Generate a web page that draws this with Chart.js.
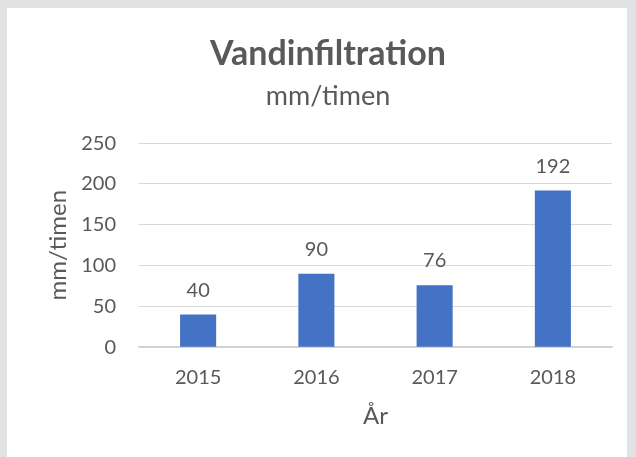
<!DOCTYPE html>
<html>
<head>
<meta charset="utf-8">
<script src="https://cdn.jsdelivr.net/npm/chart.js@4"></script>
<style>
    html, body { margin: 0; padding: 0; background: #e1e2e4; }
    #panel { position: absolute; left: 7px; top: 8px; width: 620px; height: 449px; background: #ffffff; }
    #wrap { position: absolute; left: 0; top: 0; width: 636px; height: 457px; }
</style>
</head>
<body>
<div id="panel"></div>
<div id="wrap"><canvas id="chartInfiltration"></canvas></div>
<script>
// data
var years = ['2015', '2016', '2017', '2018'];
var infiltration = [40, 90, 76, 192];
var yTicks = [0, 50, 100, 150, 200, 250];

var textColor = '#595959';
var fontName = 'Lato, "Open Sans", sans-serif';

// labels above each bar
var barLabels = {
    id: 'barLabels',
    afterDatasetsDraw: function (chart) {
        var ctx = chart.ctx;
        var meta = chart.getDatasetMeta(0);
        ctx.save();
        ctx.fillStyle = textColor;
        ctx.font = '20px ' + fontName;
        ctx.textAlign = 'center';
        ctx.textBaseline = 'alphabetic';
        meta.data.forEach(function (bar, i) {
            ctx.fillText(String(infiltration[i]), bar.x, bar.y - 18);
        });
        ctx.restore();
    }
};

var ctx = document.getElementById('chartInfiltration').getContext('2d');
var myChart = new Chart(ctx, {
    type: 'bar',
    data: {
        labels: years,
        datasets: [{
            label: 'mm/timen',
            data: infiltration,
            backgroundColor: '#4472c4',
            borderWidth: 0,
            categoryPercentage: 1,
            barPercentage: 0.305
        }]
    },
    options: {
        responsive: true,
        maintainAspectRatio: false,
        animation: false,
        layout: {
            padding: { left: 44, right: 24, top: 0, bottom: 26 }
        },
        scales: {
            x: {
                grid: { display: false, drawTicks: false },
                border: { display: true, color: '#d0d0d0', width: 1.5 },
                ticks: {
                    color: textColor,
                    font: { family: fontName, size: 20 },
                    padding: 18
                },
                title: {
                    display: true,
                    text: 'År',
                    color: textColor,
                    font: { family: fontName, size: 24 },
                    padding: { top: -5, bottom: 0 }
                }
            },
            y: {
                min: 0,
                max: 250,
                afterBuildTicks: function (scale) {
                    scale.ticks = yTicks.map(function (v) { return { value: v }; });
                },
                afterFit: function (scale) {
                    scale.width = 95;
                },
                grid: { color: '#d9d9d9', drawTicks: false },
                border: { display: false },
                ticks: {
                    color: textColor,
                    font: { family: fontName, size: 20 },
                    padding: 23
                },
                title: {
                    display: true,
                    text: 'mm/timen',
                    color: textColor,
                    font: { family: fontName, size: 24 },
                    padding: { top: 0, bottom: 0 }
                }
            }
        },
        plugins: {
            legend: { display: false },
            tooltip: { enabled: false },
            title: {
                display: true,
                text: 'Vandinfiltration',
                color: textColor,
                font: { family: fontName, size: 34, weight: 'bold' },
                padding: { top: 34, bottom: 5 }
            },
            subtitle: {
                display: true,
                text: 'mm/timen',
                color: textColor,
                font: { family: fontName, size: 27 },
                padding: { top: 0, bottom: 31 }
            }
        }
    },
    plugins: [barLabels]
});
</script>
</body>
</html>
